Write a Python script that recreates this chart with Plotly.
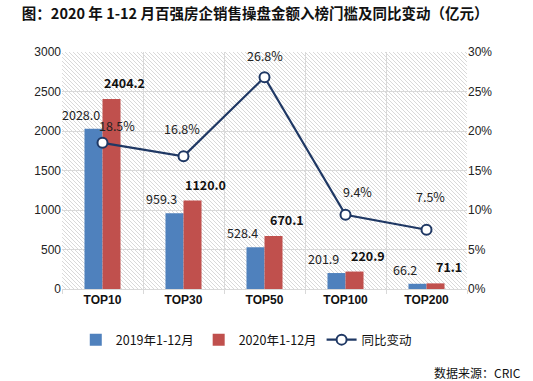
import plotly.graph_objects as go

categories = ["TOP10", "TOP30", "TOP50", "TOP100", "TOP200"]
sales_2019 = [2028.0, 959.3, 528.4, 201.9, 66.2]
sales_2020 = [2404.2, 1120.0, 670.1, 220.9, 71.1]
yoy_pct = [18.5, 16.8, 26.8, 9.4, 7.5]

title = "图：2020 年 1-12 月百强房企销售操盘金额入榜门槛及同比变动（亿元）"
name_2019 = "2019年1-12月"
name_2020 = "2020年1-12月"
name_yoy = "同比变动"
source = "数据来源：CRIC"

BLUE = "#4f81bd"
RED = "#c0504d"
NAVY = "#1f3864"
GRID = "#d9d9d9"
HATCH = "#d9d9d9"
CJK = "Noto Sans CJK SC"
NUM = "Liberation Sans"

W, H = 533, 381
ML, MR, MT, MB = 62, 66, 52, 92
PW, PH = W - ML - MR, H - MT - MB

# decorative diagonal hatch of the plot background ("\" direction)
shapes = []
step = 4.0
c = -PH
while c < PW:
    y0 = max(0.0, -c)
    x0 = c + y0
    y1 = min(float(PH), PW - c)
    x1 = c + y1
    if y1 > y0:
        shapes.append(dict(type="line", xref="x domain", yref="y domain",
                           x0=x0 / PW, y0=1 - y0 / PH, x1=x1 / PW, y1=1 - y1 / PH,
                           line=dict(color=HATCH, width=1), layer="below"))
    c += step

fig = go.Figure()
fig.add_trace(go.Bar(x=categories, y=sales_2019, name=name_2019, marker_color=BLUE,
                     marker_line_width=0))
fig.add_trace(go.Bar(x=categories, y=sales_2020, name=name_2020, marker_color=RED,
                     marker_line_width=0))
fig.add_trace(go.Scatter(x=categories, y=yoy_pct, name=name_yoy, yaxis="y2",
                         mode="lines+markers",
                         line=dict(color=NAVY, width=2.2),
                         marker=dict(size=10, color="white",
                                     line=dict(color=NAVY, width=2))))

annotations = []
for cat, v in zip(categories, sales_2019):
    annotations.append(dict(x=cat, y=v, xref="x", yref="y", text=f"{v:.1f}",
                            showarrow=False, xshift=-22, yshift=3, yanchor="bottom",
                            font=dict(family=CJK, size=12.5, color="#222")))
for cat, v in zip(categories, sales_2020):
    annotations.append(dict(x=cat, y=v, xref="x", yref="y", text=f"<b>{v:.1f}</b>",
                            showarrow=False, xshift=22, yshift=5, yanchor="bottom",
                            font=dict(family=CJK, size=12.5, color="#111")))
line_shift = [(14, 6), (-2, 16), (0, 10), (12, 12), (4, 22)]
for cat, v, (dx, dy) in zip(categories, yoy_pct, line_shift):
    annotations.append(dict(x=cat, y=v, xref="x", yref="y2", text=f"{v:.1f}%",
                            showarrow=False, xshift=dx, yshift=dy, yanchor="bottom",
                            font=dict(family=CJK, size=12.5, color="#222")))
annotations.append(dict(x=(523 - ML) / PW, y=(MT + PH - 372) / PH, xref="paper",
                        yref="paper", text=source, showarrow=False, xanchor="right",
                        yanchor="middle", font=dict(family=CJK, size=12, color="#111")))

fig.update_layout(
    width=W, height=H,
    margin=dict(l=ML, r=MR, t=MT, b=MB, autoexpand=False),
    paper_bgcolor="white",
    plot_bgcolor="white",
    barmode="group",
    bargap=0.555,
    bargroupgap=0,
    title=dict(text="<b>" + title + "</b>", x=0.041, xanchor="left",
               y=1 - 14 / H, yanchor="middle",
               font=dict(family=CJK, size=14.5, color="#111")),
    xaxis=dict(type="category", tickson="boundaries", showgrid=True, gridcolor=GRID,
               gridwidth=1, ticks="outside", ticklen=4, tickcolor=GRID,
               showline=True, linecolor=GRID, linewidth=1,
               tickfont=dict(family=NUM, size=12, color="#111", weight="bold"),
               range=[-0.5, 4.5]),
    yaxis=dict(range=[0, 3000], dtick=500, showgrid=True, gridcolor=GRID, gridwidth=1,
               zeroline=False, showline=False, ticks="",
               tickfont=dict(family=NUM, size=12, color="#222")),
    yaxis2=dict(range=[0, 30], dtick=5, overlaying="y", side="right", showgrid=False,
                zeroline=False, ticksuffix="%", ticks="",
                tickfont=dict(family=NUM, size=12, color="#222")),
    legend=dict(orientation="h", x=0.455, xanchor="center", y=(MT + PH - 340) / PH,
                yanchor="middle",
                font=dict(family=CJK, size=12.5, color="#111"), traceorder="normal",
                itemwidth=30),
    shapes=shapes,
    annotations=annotations,
)

fig.write_html("out.html", config={"displayModeBar": False},
               post_script="document.body.style.margin='0';")
